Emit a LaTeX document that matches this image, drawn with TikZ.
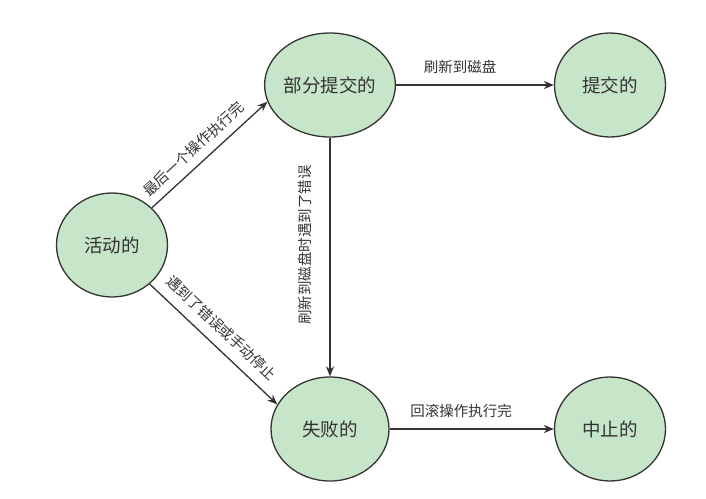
\documentclass[tikz,border=0pt]{standalone}
\usepackage{fontspec}
\setmainfont{Noto Sans CJK SC}
\usetikzlibrary{arrows.meta,shapes.geometric}
\definecolor{stfill}{HTML}{C7E5C8}
\definecolor{stline}{HTML}{333333}
\definecolor{txt}{HTML}{333333}
\tikzset{
  state/.style={ellipse, draw=stline, fill=stfill, line width=1.3pt,
    minimum width=111pt, minimum height=104pt, inner sep=0pt,
    font=\fontsize{18.5}{20}\selectfont, text=txt},
  conn/.style={draw=stline, line width=1.3pt, -{Stealth[length=10pt,width=8pt]}},
  elabel/.style={font=\fontsize{14.5}{16}\selectfont, text=txt, inner sep=2pt}
}
\begin{document}
\begin{tikzpicture}[x=1pt,y=-1pt]
\useasboundingbox (0,0) rectangle (706,498);
\node[state] (act) at (112,245) {活动的};
\node[state, minimum width=116pt] (part) at (330,85) {部分提交的};
\node[state] (comm) at (610,85) {提交的};
\node[state, minimum width=118pt] (fail) at (330,429) {失败的};
\node[state] (abort) at (610,429) {中止的};
\draw[conn] (act.43) -- node[elabel, sloped, above=6pt, pos=0.45] (l1) {最后一个操作执行完} (part.195);
\draw[conn] (act.-46) -- node[elabel, sloped, above=8pt, pos=0.47] (l2) {遇到了错误或手动停止} (fail.155);
\draw[conn] (part) -- (comm);
\node[elabel] (l3) at (460,67) {刷新到磁盘};
\draw[conn] (part) -- (fail);
\node[elabel, rotate=90] (l4) at (305,245) {刷新到磁盘时遇到了错误};
\draw[conn] (fail) -- (abort);
\node[elabel] (l5) at (461,411) {回滚操作执行完};
\end{tikzpicture}
\end{document}
